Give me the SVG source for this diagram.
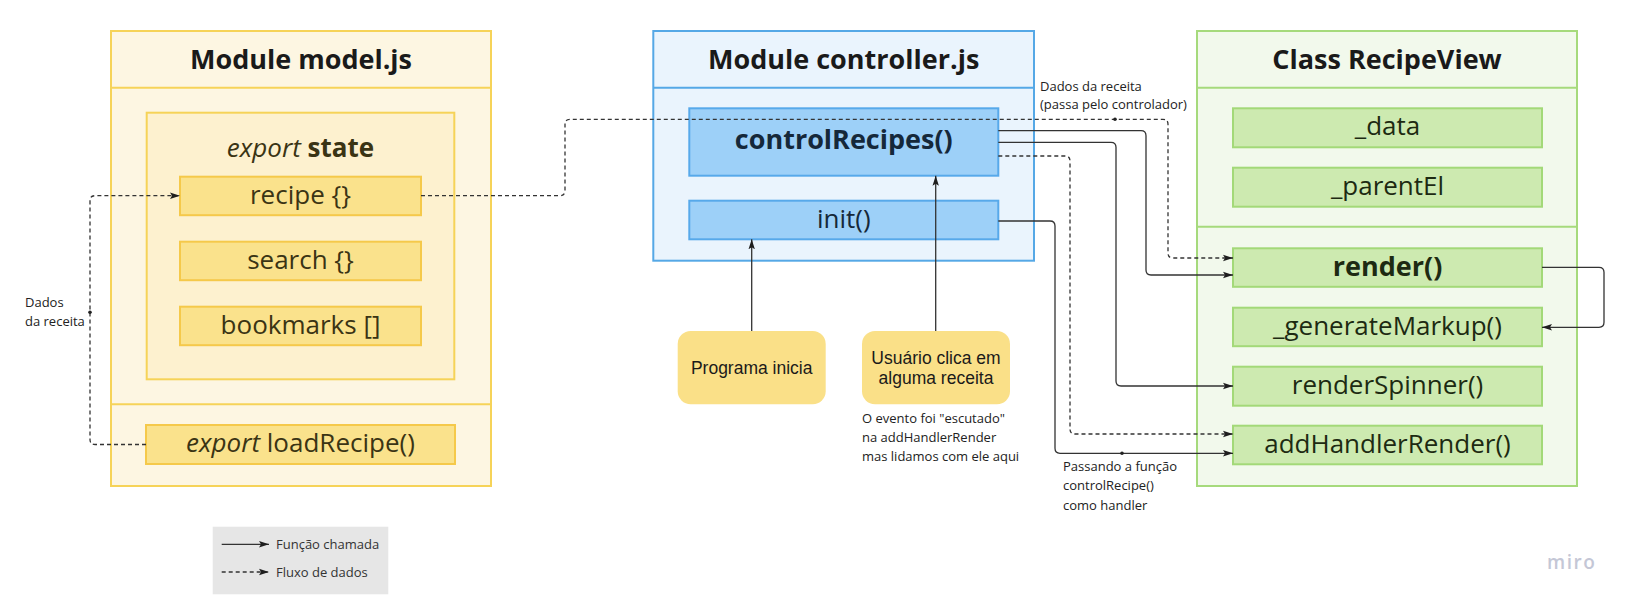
<svg xmlns="http://www.w3.org/2000/svg" width="1634" height="611" viewBox="0 0 1634 611">
<defs>
<marker id="arr" markerUnits="userSpaceOnUse" markerWidth="10" markerHeight="8" refX="10" refY="4" orient="auto">
<path d="M0,0.8 L10,4 L0,7.2 L2,4 z" fill="#1e1e1e"/>
</marker>
<style>
text{font-family:"Open Sans","Noto Sans","Liberation Sans",sans-serif}
.title{font-size:27px;font-weight:700;fill:#1a1a1a;text-anchor:middle}
.item{font-size:26px;text-anchor:middle}
.b{font-weight:700}
.it{font-style:italic}
.ym{fill:#fdf6e2;stroke:#f6d358;stroke-width:2}
.ys{fill:#fdf1cf;stroke:#f6d358;stroke-width:2}
.yi{fill:#fae28c;stroke:#f5c94a;stroke-width:2}
.ytx{fill:#3a3414}
.bm{fill:#eaf4fd;stroke:#55a8e6;stroke-width:2}
.bi{fill:#9dd0f8;stroke:#57a9ea;stroke-width:2}
.btx{fill:#15283a}
.gm{fill:#f2f9ec;stroke:#a6da7c;stroke-width:2}
.gi{fill:#cdeab0;stroke:#a3d978;stroke-width:2}
.gtx{fill:#1d2a12}
.div{stroke-width:2;fill:none}
.ev{fill:#fae088}
.evt{font-family:"Liberation Sans",Arial,sans-serif;font-size:17.5px;fill:#1a1a1a;text-anchor:middle}
.lbl{font-size:13px;fill:#222}
.c{fill:none;stroke:#333;stroke-width:1.3}
.d{stroke-dasharray:4 3}
.a{marker-end:url(#arr)}
</style>
</defs>
<rect width="1634" height="611" fill="#ffffff"/>

<g id="model">
<rect class="ym" x="111" y="31" width="380" height="455"/>
<line class="div" x1="111" y1="87.7" x2="491" y2="87.7" stroke="#f6d358"/>
<line class="div" x1="111" y1="404.3" x2="491" y2="404.3" stroke="#f6d358"/>
<text class="title" x="301" y="69">Module model.js</text>
<g id="state">
<rect class="ys" x="146.7" y="112.7" width="307.6" height="266.6"/>
<text class="item ytx" x="300.5" y="157"><tspan class="it">export</tspan> <tspan class="b">state</tspan></text>
</g>
<g id="recipe">
<rect class="yi" x="180" y="176.7" width="241" height="38.5"/>
<text class="item ytx" x="300.5" y="203.5">recipe {}</text>
</g>
<g id="search">
<rect class="yi" x="180" y="241.7" width="241" height="38.5"/>
<text class="item ytx" x="300.5" y="268.5">search {}</text>
</g>
<g id="bookmarks">
<rect class="yi" x="180" y="306.7" width="241" height="38.5"/>
<text class="item ytx" x="300.5" y="333.5">bookmarks []</text>
</g>
<g id="loadRecipe">
<rect class="yi" x="146" y="425" width="309" height="39"/>
<text class="item ytx" x="300.5" y="452"><tspan class="it">export</tspan> loadRecipe()</text>
</g>
</g>

<g id="controller">
<rect class="bm" x="653.3" y="31" width="380.7" height="229.7"/>
<line class="div" x1="653.3" y1="87.7" x2="1034" y2="87.7" stroke="#55a8e6"/>
<text class="title" x="843.7" y="69">Module controller.js</text>
<g id="controlRecipes">
<rect class="bi" x="689.3" y="108.3" width="309" height="67.4"/>
<text class="item btx b" x="843.8" y="149" style="font-size:27px">controlRecipes()</text>
</g>
<g id="init">
<rect class="bi" x="689.3" y="200.7" width="309" height="38.6"/>
<text class="item btx" x="843.8" y="228">init()</text>
</g>
</g>

<g id="recipeView">
<rect class="gm" x="1197" y="31" width="380" height="455"/>
<line class="div" x1="1197" y1="87.7" x2="1577" y2="87.7" stroke="#a6da7c"/>
<line class="div" x1="1197" y1="226.7" x2="1577" y2="226.7" stroke="#a6da7c"/>
<text class="title" x="1387" y="69">Class RecipeView</text>
<g id="data">
<rect class="gi" x="1233" y="108.3" width="309" height="39"/>
<text class="item gtx" x="1387.5" y="135">_data</text>
</g>
<g id="parentEl">
<rect class="gi" x="1233" y="167.7" width="309" height="39"/>
<text class="item gtx" x="1387.5" y="194.5">_parentEl</text>
</g>
<g id="render">
<rect class="gi" x="1233" y="248.3" width="309" height="38.5"/>
<text class="item gtx b" x="1387.5" y="276" style="font-size:27px">render()</text>
</g>
<g id="generateMarkup">
<rect class="gi" x="1233" y="307.7" width="309" height="38.5"/>
<text class="item gtx" x="1387.5" y="334.5">_generateMarkup()</text>
</g>
<g id="renderSpinner">
<rect class="gi" x="1233" y="366.7" width="309" height="39"/>
<text class="item gtx" x="1387.5" y="393.5">renderSpinner()</text>
</g>
<g id="addHandlerRender">
<rect class="gi" x="1233" y="425.7" width="309" height="38.6"/>
<text class="item gtx" x="1387.5" y="452.5">addHandlerRender()</text>
</g>
</g>

<g id="programaInicia">
<rect class="ev" x="677.7" y="331" width="148" height="73.3" rx="13"/>
<text class="evt" x="751.7" y="373.5">Programa inicia</text>
</g>

<g id="usuarioClica">
<rect class="ev" x="862" y="331" width="148" height="73.3" rx="13"/>
<text class="evt" x="936" y="363.5">Usuário clica em</text>
<text class="evt" x="936" y="383.5">alguma receita</text>
<text class="lbl" x="862" y="423">O evento foi "escutado"</text>
<text class="lbl" x="862" y="442">na addHandlerRender</text>
<text class="lbl" x="862" y="461">mas lidamos com ele aqui</text>
</g>

<g id="connectors">
<path class="c d a" d="M146,444.5 H95 Q90,444.5 90,439.5 V200.7 Q90,195.7 95,195.7 H180"/>
<circle cx="90" cy="312.3" r="1.8" fill="#222"/>
<path class="c d a" d="M421,195.7 H560 Q565,195.7 565,190.7 V124.3 Q565,119.3 570,119.3 H1163 Q1168,119.3 1168,124.3 V253 Q1168,258 1173,258 H1233"/>
<circle cx="1115" cy="119.3" r="1.8" fill="#222"/>
<path class="c a" d="M998.3,130.7 H1141 Q1146,130.7 1146,135.7 V270 Q1146,275 1151,275 H1233"/>
<path class="c a" d="M998.3,142.3 H1111 Q1116,142.3 1116,147.3 V381 Q1116,386 1121,386 H1233"/>
<path class="c d a" d="M998.3,156 H1065 Q1070,156 1070,161 V429 Q1070,434 1075,434 H1233"/>
<path class="c a" d="M998.3,221 H1050 Q1055,221 1055,226 V448.3 Q1055,453.3 1060,453.3 H1233"/>
<circle cx="1122" cy="453.3" r="1.8" fill="#222"/>
<path class="c a" d="M751.7,331 V239.3"/>
<path class="c a" d="M935.7,331 V175.7"/>
<path class="c a" d="M1542,267.3 H1599 Q1604,267.3 1604,272.3 V322.3 Q1604,327.3 1599,327.3 H1542"/>
<text class="lbl" x="25" y="306.5">Dados</text>
<text class="lbl" x="25" y="325.5">da receita</text>
<text class="lbl" x="1040" y="90.5">Dados da receita</text>
<text class="lbl" x="1040" y="109">(passa pelo controlador)</text>
<text class="lbl" x="1063" y="470.5">Passando a função</text>
<text class="lbl" x="1063" y="490">controlRecipe()</text>
<text class="lbl" x="1063" y="509.5">como handler</text>
</g>

<g id="legend">
<rect x="212.7" y="526.7" width="175.6" height="67.6" fill="#e6e6e6"/>
<path class="c a" d="M221.7,544.3 H269"/>
<text class="lbl" x="276" y="548.5" style="fill:#333">Função chamada</text>
<path class="c d a" d="M221.7,572 H269"/>
<text class="lbl" x="276" y="576.5" style="fill:#333">Fluxo de dados</text>
</g>

<text x="1547" y="569" style="font-size:19px;font-weight:600;fill:#c4c7d6;letter-spacing:1.5px">miro</text>
</svg>
